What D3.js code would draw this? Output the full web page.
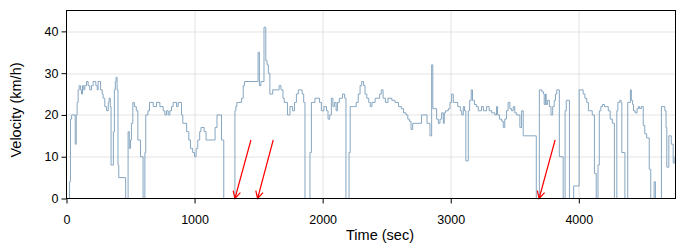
<!DOCTYPE html>
<html><head><meta charset="utf-8">
<script src="https://cdn.jsdelivr.net/npm/d3@7"></script>
<style>body{margin:0;background:#fff}</style>
</head><body><svg id="c" width="700" height="250"></svg>
<script>
// Time (sec) of each step change and the velocity (km/h) held from that time on
const timeSec = [
  0,18,24,31,40,68,76,83,91,99,110,117,125,135,143,156,169,182,195,208,229,240,247,266,279,286,299,313,326,333,342,348,366,374,381,387,395,402,408,462,
  481,490,500,507,518,530,545,557,578,598,612,619,636,648,677,703,729,755,768,781,794,807,820,833,859,872,898,908,938,955,968,985,1000,1012,1025,1040,1050,1075,1090,1160,1175,1210,1228,
  1315,1322,1330,1367,1380,1390,1496,1506,1518,1542,1556,1566,1576,1588,1610,1660,1675,1690,1700,1725,1745,1765,1780,1795,1810,1840,1852,1862,
  1901,1912,1940,1975,1990,2010,2030,2042,2055,2068,2080,2092,2105,2115,2130,2155,2172,2182,2206,2215,2240,2262,2278,2292,2305,2320,2331,2345,2360,2372,2385,2410,2445,2458,2472,2490,2510,2540,
  2565,2592,2615,2632,2651,2665,2677,2690,2703,2772,2815,2838,2851,2860,2890,2903,2916,2929,2942,2950,2960,2981,2994,3007,3020,
  3055,3075,3086,3098,3108,3118,3137,3148,3160,3170,3185,3200,3215,3240,3255,3280,3300,3320,3345,3358,3366,3380,3398,3410,3422,3435,3448,3462,3475,3488,3500,3515,3540,3553,3566,3668,
  3692,3712,3725,3730,3740,3745,3755,3770,3783,3796,3808,3818,3828,3848,3878,3893,3902,3927,3960,4003,4034,4048,4062,4075,4105,4122,4136,4150,4160,4172,4185,4200,4230,4245,4262,4278,
  4297,4305,4320,4330,4336,4360,4382,4403,4410,4420,4427,4440,4455,4465,4475,4488,4503,4515,4530,4550,4562,4588,4598,4645,4672,4681,4687,4703,4722,4737,4750,4755
];
const velocity = [
  0,0,4,19,20,13,20,23,26,27,26,25,27,26,27,28,27,26,27,28,27,26,28,26,25,24,22,21,23,24,22,8,16,26,28,29,26,8,5,0,
  16,12,14,18,23,22,21,14,10,0,11,20,21,23,22,23,22,21,20,21,20,21,22,23,22,23,20,18,16,14,12,11,10,12,14,16,17,16,14,17,20,14,0,
  21,22,23,24,27,28,35,27,28,41,33,32,30,25,26,27,26,24,23,20,22,21,23,25,26,25,23,0,
  11,23,24,23,21,22,21,19,20,24,22,23,21,23,24,25,24,0,11,22,22,23,25,27,28,27,25,24,23,22,23,24,25,26,24,23,24,23.5,
  23,22,21.5,20.5,20,19,18.5,16.5,18,20,18,15,32,21.5,19,18,19,20.5,18,20.5,21,21.5,23,25,23,
  22,21,20,22,21,9,21,23.5,26,23.5,22.5,22,21,22,21,22,21,20.5,20,22,20,19,18.5,17,19,21,23,21.5,21,22,20.5,20,17,21,15,0,
  26,25.5,25,22.5,25,22.5,23.5,22,20,22,23.5,25,26,10,0,21,23.5,0,3,26,25,24,23,21,20,6,0,8,21,22,22.5,22,21,19,18,0,
  21,23,23.5,23,11,0,23,26,23.5,22.5,21,20.5,21.5,22,21.5,22,17.5,15.5,14.5,7,0,4,0,22,21,17,7.5,15,13,8.5,10,10
];
const xTicks = [0, 1000, 2000, 3000, 4000];
const yTicks = [0, 10, 20, 30, 40];
const xDomain = [0, 4755];
const yDomain = [0, 45];
// annotation arrows (data units): tail -> tip
const arrowTailT = [1440, 1614, 3815];
const arrowTipT  = [1315, 1492, 3690];
const arrowTailV = [14, 14, 14];
const arrowTipV  = [0, 0, 0];

const W = 700, H = 250;
const m = {left: 66.5, right: 24.5, top: 10.5, bottom: 51.5};
const iw = W - m.left - m.right, ih = H - m.top - m.bottom;
const svg = d3.select('#c');
const g = svg.append('g').attr('transform', `translate(${m.left},${m.top})`);
const x = d3.scaleLinear().domain(xDomain).range([0, iw]);
const y = d3.scaleLinear().domain(yDomain).range([ih, 0]);

// grid
g.append('g').selectAll('line').data(yTicks.filter(d => d > 0)).join('line')
  .attr('x1', 0).attr('x2', iw).attr('y1', d => Math.round(y(d)) + 0.5).attr('y2', d => Math.round(y(d)) + 0.5)
  .attr('stroke', '#e3e3e3').attr('stroke-width', 1);
g.append('g').selectAll('line').data(xTicks.filter(d => d > 0)).join('line')
  .attr('y1', 0).attr('y2', ih).attr('x1', d => Math.round(x(d)) + 0.5).attr('x2', d => Math.round(x(d)) + 0.5)
  .attr('stroke', '#e3e3e3').attr('stroke-width', 1);

// data
const data = timeSec.map((t, i) => ({t, v: velocity[i]}));
svg.append('defs').append('clipPath').attr('id', 'clip')
  .append('rect').attr('x', 0).attr('y', 0).attr('width', iw).attr('height', ih);
g.append('path').datum(data)
  .attr('clip-path', 'url(#clip)')
  .attr('fill', 'none').attr('stroke', '#86a6c1').attr('stroke-width', 1)
  .attr('d', d3.line().x(d => x(d.t)).y(d => y(d.v)).curve(d3.curveStepAfter));

// arrows
const arrows = arrowTipT.map((t, i) => ({x0: x(arrowTailT[i]), y0: y(arrowTailV[i]), x1: x(t), y1: y(arrowTipV[i])}));
const ah = 8, ang = 28 * Math.PI / 180;
g.append('g').selectAll('path').data(arrows).join('path')
  .attr('fill', 'none').attr('stroke', '#ff0000').attr('stroke-width', 1.2)
  .attr('d', a => {
    const dir = Math.atan2(a.y0 - a.y1, a.x0 - a.x1);
    const p1 = [a.x1 + ah * Math.cos(dir - ang), a.y1 + ah * Math.sin(dir - ang)];
    const p2 = [a.x1 + ah * Math.cos(dir + ang), a.y1 + ah * Math.sin(dir + ang)];
    return `M${a.x0},${a.y0}L${a.x1},${a.y1}M${p1[0]},${p1[1]}L${a.x1},${a.y1}L${p2[0]},${p2[1]}`;
  });

// axes
const fontTick = '"Liberation Sans", Arial, sans-serif';
const xa = g.append('g').attr('transform', `translate(0,${ih})`)
  .call(d3.axisBottom(x).tickValues(xTicks).tickFormat(d3.format('d')).tickSize(5).tickPadding(12));
const ya = g.append('g')
  .call(d3.axisLeft(y).tickValues(yTicks).tickFormat(d3.format('d')).tickSize(5).tickPadding(3));
[xa, ya].forEach(a => {
  a.select('.domain').remove();
  a.selectAll('line').attr('stroke', '#000');
  a.selectAll('text').attr('fill', '#000').style('font-family', fontTick).style('font-size', '12.5px');
});

// frame
g.append('rect').attr('x', 0).attr('y', 0).attr('width', iw).attr('height', ih)
  .attr('fill', 'none').attr('stroke', '#000').attr('stroke-width', 1);

// titles
svg.append('text').attr('x', 380).attr('y', 240).attr('text-anchor', 'middle')
  .style('font-family', fontTick).style('font-size', '14.5px').attr('fill', '#000').text('Time (sec)');
svg.append('text').attr('transform', 'translate(20.5,110) rotate(-90)').attr('text-anchor', 'middle')
  .style('font-family', fontTick).style('font-size', '14.5px').attr('fill', '#000').text('Velocity (km/h)');
</script></body></html>
